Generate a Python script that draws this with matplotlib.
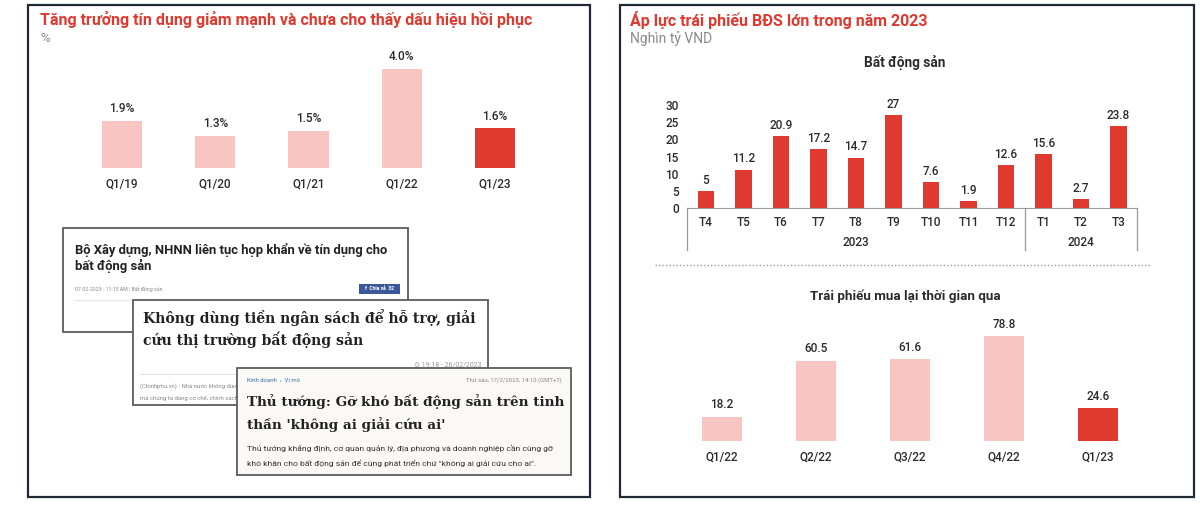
import matplotlib
matplotlib.use("Agg")
import matplotlib.pyplot as plt
from matplotlib.patches import Rectangle

plt.rcParams['font.family'] = ['Roboto', 'DejaVu Sans']

# ---- data ----
credit_labels = ['Q1/19', 'Q1/20', 'Q1/21', 'Q1/22', 'Q1/23']
credit_growth = [1.9, 1.3, 1.5, 4.0, 1.6]

bds_months = ['T4', 'T5', 'T6', 'T7', 'T8', 'T9', 'T10', 'T11', 'T12', 'T1', 'T2', 'T3']
bds_values = [5, 11.2, 20.9, 17.2, 14.7, 27, 7.6, 1.9, 12.6, 15.6, 2.7, 23.8]
bds_years = ['2023', '2024']
bds_year_len = [9, 3]

buyback_labels = ['Q1/22', 'Q2/22', 'Q3/22', 'Q4/22', 'Q1/23']
buyback_values = [18.2, 60.5, 61.6, 78.8, 24.6]

RED = '#E0392F'
PINK = '#F8C5C3'
DARK = '#2b2b2b'
LBL = dict(fontsize=8.5, color=DARK, fontweight='medium')
W, H = 1200, 518

fig = plt.figure(figsize=(12, 5.18), dpi=100)
fig.patch.set_facecolor('white')


def px_axes(x0, y0, x1, y1):
    return fig.add_axes([x0 / W, 1 - y1 / H, (x1 - x0) / W, (y1 - y0) / H])


# background layer in pixel coordinates
bg = px_axes(0, 0, W, H)
bg.set_xlim(0, W)
bg.set_ylim(H, 0)
bg.axis('off')

# panel borders
for x0, x1 in [(28, 590), (620, 1194)]:
    bg.add_patch(Rectangle((x0, 5), x1 - x0, 492, fill=False, ec='#1f2a36', lw=1.6))

# titles
bg.text(40, 20, 'Tăng trưởng tín dụng giảm mạnh và chưa cho thấy dấu hiệu hồi phục',
        color=RED, fontsize=11.5, fontweight='bold', va='center')
bg.text(40, 38, '%', color='#8a8a8a', fontsize=9.5, va='center')
bg.text(630, 20, 'Áp lực trái phiếu BĐS lớn trong năm 2023',
        color=RED, fontsize=11.5, fontweight='bold', va='center')
bg.text(630, 39, 'Nghìn tỷ VND', color='#8a8a8a', fontsize=10, va='center')
bg.text(905, 62, 'Bất động sản', color=DARK, fontsize=9.8, fontweight='bold',
        ha='center', va='center')
bg.text(905, 296, 'Trái phiếu mua lại thời gian qua', color=DARK, fontsize=9.6,
        fontweight='bold', ha='center', va='center')
bg.plot([655, 1150], [265, 265], color='#9a9a9a', lw=1, ls=(0, (1, 1.5)))

# ---- news clippings ----
# card 1
bg.add_patch(Rectangle((63, 228), 345, 104, fc='white', ec='#5c5c5c', lw=1.3, zorder=2))
bg.text(75, 250, 'Bộ Xây dựng, NHNN liên tục họp khẩn về tín dụng cho',
        fontsize=9.4, fontweight='bold', color='#222222', va='center', zorder=3)
bg.text(75, 266, 'bất động sản', fontsize=9.4, fontweight='bold', color='#222222',
        va='center', zorder=3)
bg.text(75, 289, '07-02-2023 - 11:15 AM | Bất động sản', fontsize=3.8, color='#8a8a8a',
        va='center', zorder=3)
bg.add_patch(Rectangle((359, 284), 41, 10, fc='#3b5998', ec='none', zorder=3))
bg.text(379.5, 289, 'f  Chia sẻ  32', fontsize=3.6, color='white', ha='center',
        va='center', fontweight='bold', zorder=4)
bg.plot([75, 400], [300, 300], color='#e6e6e6', lw=0.8, zorder=3)

# card 2
bg.add_patch(Rectangle((133, 300), 355, 105, fc='white', ec='#5c5c5c', lw=1.3, zorder=5))
bg.text(143, 318, 'Không dùng tiền ngân sách để hỗ trợ, giải', family='DejaVu Serif',
        fontsize=10.1, fontweight='bold', color='#222222', va='center', zorder=6)
bg.text(143, 340, 'cứu thị trường bất động sản', family='DejaVu Serif',
        fontsize=10.1, fontweight='bold', color='#222222', va='center', zorder=6)
bg.text(482, 365, '⊙ 19:18 - 26/02/2023', fontsize=5, color='#9a9a9a', ha='right',
        va='center', zorder=6)
bg.plot([140, 482], [374, 374], color='#e3e3e3', lw=0.8, zorder=6)
bg.text(140, 386, '(Chinhphu.vn) - Nhà nước không dùng tiền ngân sách',
        fontsize=4.3, color='#8a8a8a', va='center', zorder=6)
bg.text(140, 398, 'mà chúng ta dùng cơ chế, chính sách', fontsize=4.3,
        color='#8a8a8a', va='center', zorder=6)

# card 3
bg.add_patch(Rectangle((237, 368), 334, 107, fc='#FBF9F6', ec='#5c5c5c', lw=1.3, zorder=8))
bg.text(247, 380, 'Kinh doanh  ›  Vi mô', fontsize=4.3, color='#3d6fa8', va='center', zorder=9)
bg.text(562, 380, 'Thứ sáu, 17/2/2023, 14:10 (GMT+7)', fontsize=4.3, color='#8a8a8a',
        ha='right', va='center', zorder=9)
bg.text(247, 402, 'Thủ tướng: Gỡ khó bất động sản trên tinh', family='DejaVu Serif',
        fontsize=9.7, fontweight='bold', color='#222222', va='center', zorder=9)
bg.text(247, 425, "thần 'không ai giải cứu ai'", family='DejaVu Serif',
        fontsize=9.7, fontweight='bold', color='#222222', va='center', zorder=9)
bg.text(247, 448, 'Thủ tướng khẳng định, cơ quan quản lý, địa phương và doanh nghiệp cần cùng gỡ',
        fontsize=6.1, color='#333333', va='center', zorder=9)
bg.text(247, 463, 'khó khăn cho bất động sản để cùng phát triển chứ "không ai giải cứu cho ai".',
        fontsize=6.1, color='#333333', va='center', zorder=9)


def simple_bars(ax, labels, values, fmt, ymax, width):
    x = range(len(values))
    colors = [PINK] * (len(values) - 1) + [RED]
    bars = ax.bar(x, values, width=width, color=colors)
    for b, v in zip(bars, values):
        ax.annotate(fmt.format(v), (b.get_x() + b.get_width() / 2, v),
                    xytext=(0, 4), textcoords='offset points', ha='center',
                    va='bottom', **LBL)
    ax.set_xlim(-0.5, len(values) - 0.5)
    ax.set_ylim(0, ymax)
    ax.set_xticks(list(x))
    ax.set_xticklabels(labels, **LBL)
    ax.tick_params(length=0, pad=7)
    ax.set_yticks([])
    for s in ax.spines.values():
        s.set_visible(False)
    ax.patch.set_alpha(0)


# ---- left chart ----
ax1 = px_axes(75.4, 60, 541.6, 168)
simple_bars(ax1, credit_labels, credit_growth, '{:.1f}%', 108 / 24.75, 0.43)

# ---- right top chart ----
ax2 = px_axes(687.25, 90, 1137.25, 208)
xs = range(len(bds_values))
ax2.bar(xs, bds_values, width=0.43, color=RED)
for i, v in zip(xs, bds_values):
    ax2.annotate('{:g}'.format(v), (i, v), xytext=(0, 3), textcoords='offset points',
                 ha='center', va='bottom', **LBL)
ax2.set_xlim(-0.5, len(bds_values) - 0.5)
ax2.set_ylim(0, 118 / 3.433)
ax2.set_yticks(range(0, 31, 5))
ax2.set_yticklabels([str(t) for t in range(0, 31, 5)], **LBL)
ax2.set_xticks(list(xs))
ax2.set_xticklabels(bds_months, **LBL)
ax2.tick_params(axis='y', length=0, pad=6)
ax2.tick_params(axis='x', length=0, pad=6)
for s in ['top', 'right', 'left']:
    ax2.spines[s].set_visible(False)
ax2.spines['bottom'].set_color('#9a9a9a')
ax2.patch.set_alpha(0)
tr = ax2.get_xaxis_transform()
start = -0.5
seps = [start]
for name, n in zip(bds_years, bds_year_len):
    ax2.text(start + n / 2, -34 / 118, name, transform=tr, ha='center', va='center',
             **LBL)
    start += n
    seps.append(start)
for sx in seps:
    ax2.plot([sx, sx], [0, -42 / 118], transform=tr, color='#9a9a9a', lw=0.9,
             clip_on=False)

# ---- right bottom chart ----
ax3 = px_axes(675, 320, 1145, 441)
simple_bars(ax3, buyback_labels, buyback_values, '{:.1f}', 121 / 1.33, 0.43)

fig.savefig('out.png', dpi=100)
